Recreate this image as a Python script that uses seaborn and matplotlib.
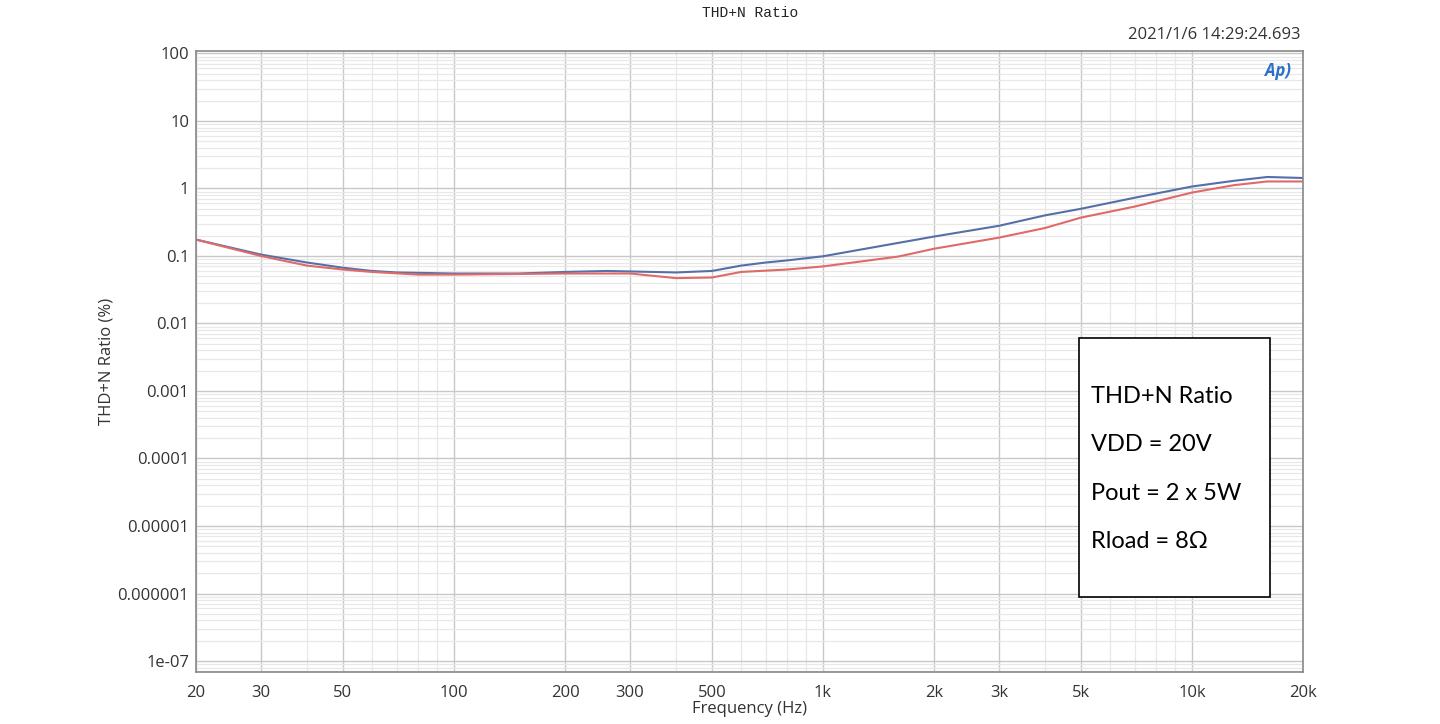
import numpy as np
import pandas as pd
import matplotlib
matplotlib.use("Agg")
import matplotlib.pyplot as plt
import seaborn as sns
from matplotlib.ticker import FixedLocator, FixedFormatter, NullFormatter, LogLocator
from matplotlib.patches import Rectangle

# ---- data ----
freq_blue = [20, 30, 40, 50, 60, 70, 100, 150, 200, 260, 300, 400, 500, 600, 700, 800, 1000,
             2000, 3000, 4000, 5000, 7000, 10000, 13000, 16000, 20000]
thd_blue = [0.175, 0.105, 0.08, 0.067, 0.06, 0.057, 0.055, 0.055, 0.058, 0.06, 0.059, 0.057, 0.06,
            0.072, 0.08, 0.086, 0.099, 0.194, 0.28, 0.4, 0.5, 0.73, 1.07, 1.3, 1.48, 1.43]
freq_red = [20, 30, 40, 50, 60, 80, 100, 200, 300, 400, 500, 600, 800, 1000, 1600,
            2000, 3000, 4000, 5000, 7000, 10000, 13000, 16000, 20000]
thd_red = [0.175, 0.1, 0.072, 0.063, 0.058, 0.053, 0.053, 0.055, 0.055, 0.047, 0.048, 0.058, 0.063,
           0.07, 0.098, 0.128, 0.187, 0.26, 0.37, 0.54, 0.87, 1.12, 1.27, 1.27]

xticks = [20, 30, 50, 100, 200, 300, 500, 1000, 2000, 3000, 5000, 10000, 20000]
xticklabels = ["20", "30", "50", "100", "200", "300", "500", "1k", "2k", "3k", "5k", "10k", "20k"]
yticks = [100, 10, 1, 0.1, 0.01, 0.001, 0.0001, 0.00001, 0.000001, 1e-7]
yticklabels = ["100", "10", "1", "0.1", "0.01", "0.001", "0.0001", "0.00001", "0.000001", "1e-07"]
box_lines = ["THD+N Ratio", "VDD = 20V", "Pout = 2 x 5W", "Rload = 8\u03a9"]

df = pd.concat([
    pd.DataFrame({"freq": freq_blue, "thd": thd_blue, "ch": "A"}),
    pd.DataFrame({"freq": freq_red, "thd": thd_red, "ch": "B"}),
])

sns.set_style("white")
plt.rcParams["font.family"] = ["Open Sans", "DejaVu Sans"]

fig = plt.figure(figsize=(14.4, 7.24), dpi=100)
ax = fig.add_axes([0.1361, 0.0718, 0.7688, 0.8578])

ax.set_xscale("log")
ax.set_yscale("log")

sns.lineplot(data=df, x="freq", y="thd", hue="ch", palette={"A": "#5570a8", "B": "#e06a6a"},
             ax=ax, legend=False, linewidth=1.5, estimator=None, sort=True)

ax.set_xlim(20, 20000)
ax.set_ylim(10 ** -7.163, 10 ** 2.037)

# grid
ax.xaxis.set_major_locator(FixedLocator(xticks))
ax.xaxis.set_major_formatter(FixedFormatter(xticklabels))
minor_x = [40, 60, 70, 80, 90, 400, 600, 700, 800, 900, 4000, 6000, 7000, 8000, 9000]
ax.xaxis.set_minor_locator(FixedLocator(minor_x))
ax.xaxis.set_minor_formatter(NullFormatter())
ax.yaxis.set_major_locator(FixedLocator(yticks))
ax.yaxis.set_major_formatter(FixedFormatter(yticklabels))
ax.yaxis.set_minor_locator(LogLocator(base=10, subs=np.arange(2, 10), numticks=30))
ax.yaxis.set_minor_formatter(NullFormatter())

ax.grid(True, which="major", color="#c8c8c8", linewidth=1.0)
ax.grid(True, which="minor", color="#e8e8e8", linewidth=0.9)
ax.set_axisbelow(True)

ax.tick_params(which="both", length=0)
ax.tick_params(axis="x", pad=9, labelsize=12, labelcolor="#333333")
ax.tick_params(axis="y", pad=5, labelsize=12, labelcolor="#333333")

for s in ax.spines.values():
    s.set_color("#888888")
    s.set_linewidth(1.2)

ax.set_xlabel("Frequency (Hz)", fontsize=12, color="#333333", labelpad=0)
ax.set_ylabel("THD+N Ratio (%)", fontsize=12, color="#333333", labelpad=2)

fig.text(750 / 1440, 1 - 13 / 724, "THD+N Ratio", ha="center", va="center",
         fontsize=10.5, family=["Liberation Mono", "DejaVu Sans Mono"], color="#222222")
fig.text(1300 / 1440, 1 - 35 / 724, "2021/1/6 14:29:24.693", ha="right", va="center",
         fontsize=12, color="#333333")
fig.text(1278 / 1440, 1 - 71 / 724, "Ap)", ha="center", va="center", fontsize=12,
         fontweight="bold", fontstyle="italic", color="#2a6fc9")

# annotation box
rect = Rectangle((1079 / 1440, 1 - 597 / 724), (1270 - 1079) / 1440, (597 - 338) / 724,
                 transform=fig.transFigure, fill=True, facecolor="white",
                 edgecolor="black", linewidth=1.2)
fig.patches.append(rect)
ys = [396, 445, 493, 542]
for t, yy in zip(box_lines, ys):
    fig.text(1091 / 1440, 1 - yy / 724, t, ha="left", va="center", fontsize=17,
             family=["Lato", "DejaVu Sans"], color="black")

fig.savefig("out.png", dpi=100)
